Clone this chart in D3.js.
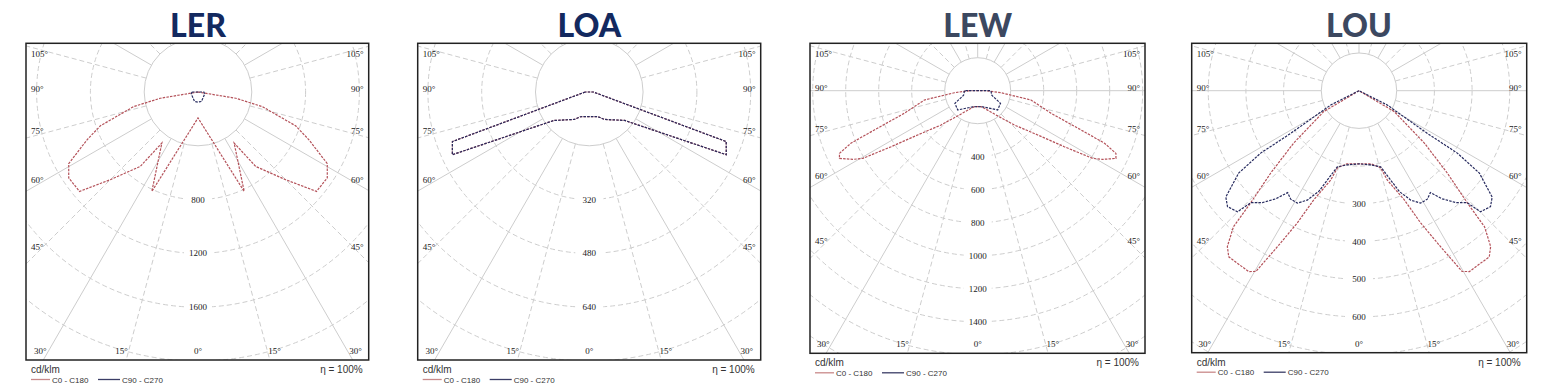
<!DOCTYPE html>
<html lang="en">
<head>
<meta charset="utf-8">
<title>Light distribution curves</title>
<script src="https://cdn.jsdelivr.net/npm/d3@7"></script>
<style>
  body { margin: 0; background: #fff; }
  svg { display: block; }
  .ang, .ring { font-family: "Liberation Serif", "DejaVu Serif", serif; font-size: 9px; fill: #1a1a1a; }
  .legend { font-family: "Liberation Sans", Arial, sans-serif; fill: #333; }
  .title { font-family: Lato, "Open Sans", sans-serif; font-weight: 900; font-size: 32px; }
</style>
</head>
<body>
<script>
// chart data (cd/klm, gamma in degrees, one half-plane, mirrored)
var titles = ["LER", "LOA", "LEW", "LOU"];
var ringSteps = [400, 160, 200, 100];
var ringLabels = [
  [800, 1200, 1600],
  [320, 480, 640],
  [400, 600, 800, 1000, 1200, 1400],
  [300, 400, 500, 600]
];
var sideAngles = [105, 90, 75, 60, 45];
var bottomAngles = [-30, -15, 0, 15, 30];
var seriesNames = ["C0 - C180", "C90 - C270"];

// LER
var lerGamma0 = [0, 24.9, 35.3, 37.8, 45, 50, 56.4, 61, 66.7, 70.9, 77.2, 80.6, 90];
var lerC0 = [193, 815, 465, 701, 922, 1150, 1154, 1099, 898, 768, 491, 285, 0];
var lerGamma90 = [0, 20, 75, 90];
var lerC90 = [75, 75, 52, 44];

// LOA
var loaGamma0 = [0, 19.4, 28.7, 51.2, 65.4, 70.1, 90];
var loaC0 = [73, 78, 93, 135, 448, 433, 12];
var loaGamma90 = [0, 19.4, 28.7, 51.2, 65.4, 70.1, 90];
var loaC90 = [73, 78, 93, 135, 448, 433, 12];

// LEW
var lewGamma0 = [0, 11.7, 20.8, 37, 46.9, 53.6, 57.1, 59.5, 61.2, 63.9, 65.6, 67.5, 69.2, 72.9, 80.1, 85, 90];
var lewC0 = [97, 99, 114, 184, 304, 452, 625, 808, 864, 933, 920, 832, 670, 465, 328, 142, 50];
var lewGamma90 = [0, 17, 46, 61, 72, 90];
var lewC90 = [97, 102, 168, 158, 90, 80];

// LOU
var louGamma0 = [0, 9.5, 15.6, 17.6, 22.5, 25, 27.6, 29.7, 31.4, 38.1, 40.2, 42.7, 44, 47, 51.3, 59.3, 90];
var louC0 = [194, 197, 212, 249, 313, 387, 467, 552, 562, 560, 541, 491, 414, 320, 222, 109, 0];
var louGamma90 = [0, 8.9, 15.9, 21.8, 25.3, 28.7, 32.2, 35, 37.6, 40.8, 44, 45.1, 48.6, 51.4, 55.6, 57.6, 58, 63.2, 90];
var louC90 = [194, 199, 210, 288, 321, 340, 340, 330, 362, 392, 413, 455, 465, 452, 387, 309, 214, 84, 0];

var curves = [
  [[lerGamma0, lerC0], [lerGamma90, lerC90]],
  [[loaGamma0, loaC0], [loaGamma90, loaC90]],
  [[lewGamma0, lewC0], [lewGamma90, lewC90]],
  [[louGamma0, louC0], [louGamma90, louC90]]
];

// layout
var w = 1563, h = 386;
var panels = [
  { cx: 198,   cy: 92,   ringPx: 53.8, box: [26, 43.3, 368.7, 360],         titleColor: "#13295f", horizon: false },
  { cx: 589.3, cy: 92,   ringPx: 53.8, box: [417.7, 43.3, 760.7, 360],      titleColor: "#13295f", horizon: false },
  { cx: 977.7, cy: 90.7, ringPx: 33,   box: [810, 43.3, 1145, 353.3],       titleColor: "#3c4860", horizon: true },
  { cx: 1359,  cy: 90.7, ringPx: 37.7, box: [1191.7, 43.3, 1526.7, 352.7],  titleColor: "#3c4860", horizon: true }
];
var seriesColors = ["#b4525a", "#262a5e"];
var legendColors = ["#c98a8a", "#3a3d66"];
var gridColor = "#cdcdcd";

function mirror(gam, val) {
  var left = gam.map(function(g, i) { return { g: -g, v: val[i] }; }).reverse();
  var right = gam.map(function(g, i) { return { g: g, v: val[i] }; }).slice(1);
  var pts = left.concat(right);
  pts.push(pts[0]);
  return pts;
}

var svg = d3.select("body").append("svg")
  .attr("width", w)
  .attr("height", h);

panels.forEach(function(p, idx) {
  var left = p.box[0], top = p.box[1], right = p.box[2], bottom = p.box[3];
  var step = ringSteps[idx];
  var r = d3.scaleLinear().domain([0, step]).range([0, p.ringPx]);

  var g = svg.append("g");

  // title
  g.append("text")
    .attr("class", "title")
    .attr("x", p.cx)
    .attr("y", 36.7)
    .attr("text-anchor", "middle")
    .attr("fill", p.titleColor)
    .text(titles[idx]);

  // clip
  svg.append("clipPath").attr("id", "clip" + idx)
    .append("rect")
    .attr("x", left).attr("y", top)
    .attr("width", right - left).attr("height", bottom - top);

  var grid = g.append("g").attr("clip-path", "url(#clip" + idx + ")");
  var polar = grid.append("g").attr("transform", "translate(" + p.cx + "," + p.cy + ")");

  // rings
  var maxDist = d3.max([[left, top], [right, top], [left, bottom], [right, bottom]], function(c) {
    return Math.hypot(c[0] - p.cx, c[1] - p.cy);
  });
  var rings = d3.range(1, Math.ceil(r.invert(maxDist) / step) + 1).map(function(k) { return k * step; });
  polar.selectAll("circle.ringc")
    .data(rings)
    .enter()
    .append("circle")
    .attr("class", "ringc")
    .attr("r", function(d) { return r(d); })
    .attr("fill", "none")
    .attr("stroke", gridColor)
    .attr("stroke-width", 1)
    .attr("stroke-dasharray", function(d, i) { return i === 0 ? null : "5,3"; });

  // radial lines every 15 degrees (no 0 line, 90 only on some charts)
  var spokes = d3.range(-165, 181, 15).filter(function(a) {
    return a !== 0 && (p.horizon || Math.abs(a) !== 90);
  });
  polar.selectAll("line.spoke")
    .data(spokes)
    .enter()
    .append("line")
    .attr("class", "spoke")
    .attr("x1", function(a) { return r(step) * Math.sin(a * Math.PI / 180); })
    .attr("y1", function(a) { return r(step) * Math.cos(a * Math.PI / 180); })
    .attr("x2", function(a) { return 600 * Math.sin(a * Math.PI / 180); })
    .attr("y2", function(a) { return 600 * Math.cos(a * Math.PI / 180); })
    .attr("stroke", gridColor)
    .attr("stroke-width", 1)
    .attr("stroke-dasharray", function(a) { return Math.abs(a) % 30 === 0 ? null : "5,3"; });

  // ring labels
  var rl = polar.selectAll("g.rl")
    .data(ringLabels[idx])
    .enter()
    .append("g")
    .attr("class", "rl")
    .attr("transform", function(d) { return "translate(0," + r(d) + ")"; });
  rl.append("rect")
    .attr("x", -14).attr("y", -5)
    .attr("width", 28).attr("height", 10)
    .attr("fill", "#fff");
  rl.append("text")
    .attr("class", "ring")
    .attr("y", 3)
    .attr("text-anchor", "middle")
    .text(function(d) { return d; });

  // curves
  var radial = d3.lineRadial()
    .angle(function(d) { return Math.PI - d.g * Math.PI / 180; })
    .radius(function(d) { return r(d.v); });
  curves[idx].forEach(function(s, si) {
    polar.append("path")
      .datum(mirror(s[0], s[1]))
      .attr("d", radial)
      .attr("fill", "none")
      .attr("stroke", seriesColors[si])
      .attr("stroke-width", 1.2)
      .attr("stroke-dasharray", "2.5,1.2");
  });

  // angle labels on the sides
  var dx = p.cx - left - 14;
  sideAngles.forEach(function(a) {
    var y = p.cy + dx * Math.cos(a * Math.PI / 180) / Math.sin(a * Math.PI / 180);
    y = Math.max(top + 14, y);
    g.append("text").attr("class", "ang")
      .attr("x", left + 5).attr("y", y)
      .text(a + "°");
    g.append("text").attr("class", "ang")
      .attr("x", right - 5).attr("y", y)
      .attr("text-anchor", "end")
      .text(a + "°");
  });

  // angle labels along the bottom
  var by = bottom - 6;
  bottomAngles.forEach(function(a) {
    var x = p.cx + (by - p.cy) * Math.tan(a * Math.PI / 180);
    g.append("text").attr("class", "ang")
      .attr("x", x).attr("y", by)
      .attr("text-anchor", a < 0 ? "end" : (a > 0 ? "start" : "middle"))
      .text(Math.abs(a) + "°");
  });

  // frame
  g.append("rect")
    .attr("x", left).attr("y", top)
    .attr("width", right - left).attr("height", bottom - top)
    .attr("fill", "none")
    .attr("stroke", "#222")
    .attr("stroke-width", 1.5);

  // legend
  g.append("text").attr("class", "legend")
    .attr("x", left + 5).attr("y", bottom + 13)
    .attr("font-size", 10)
    .text("cd/klm");
  g.append("text").attr("class", "legend")
    .attr("x", right - 6).attr("y", bottom + 13)
    .attr("font-size", 10)
    .attr("text-anchor", "end")
    .text("η = 100%");
  var ly = bottom + 19.5;
  var legX = [[5, 24, 26], [72, 94, 96]];
  seriesNames.forEach(function(name, si) {
    g.append("line")
      .attr("x1", left + legX[si][0]).attr("x2", left + legX[si][1])
      .attr("y1", ly).attr("y2", ly)
      .attr("stroke", legendColors[si])
      .attr("stroke-width", 1.3);
    g.append("text").attr("class", "legend")
      .attr("x", left + legX[si][2]).attr("y", ly + 3)
      .attr("font-size", 8)
      .text(name);
  });
});
</script>
</body>
</html>
